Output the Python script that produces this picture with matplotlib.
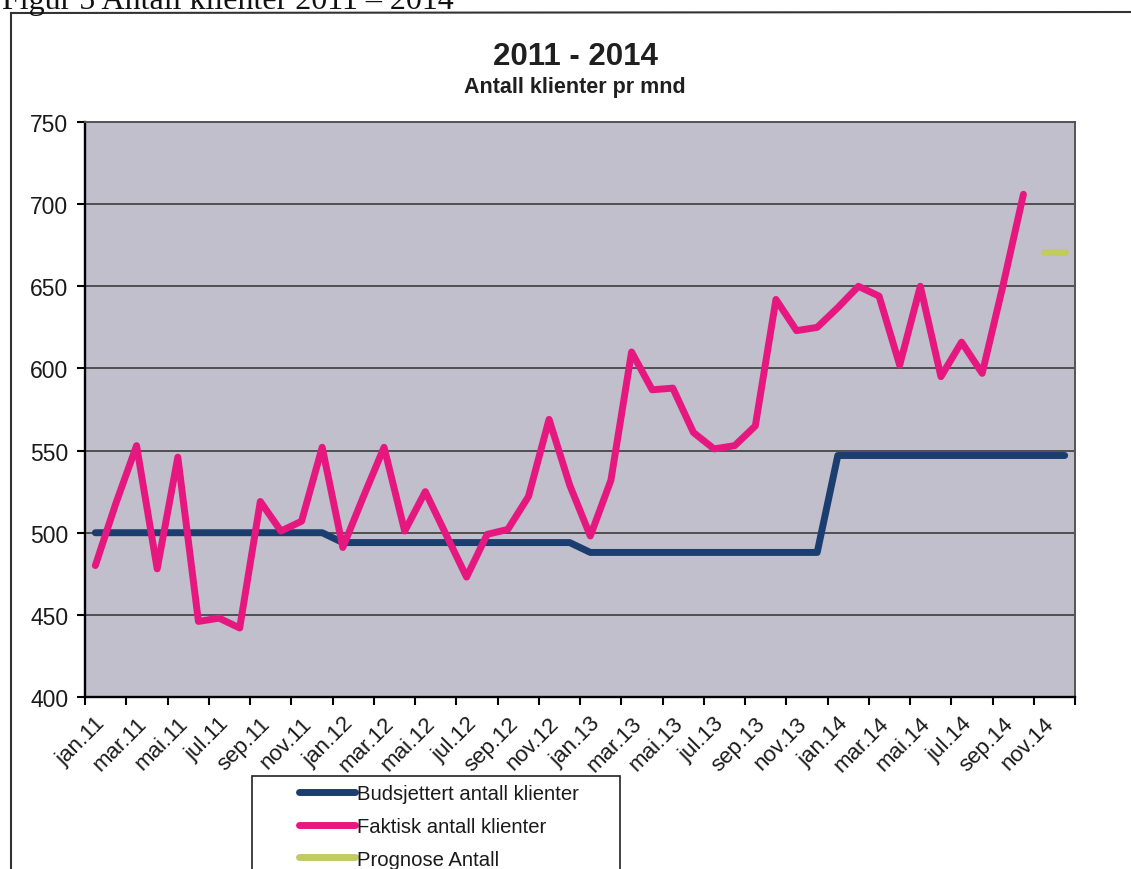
import matplotlib
matplotlib.use('Agg')
import matplotlib.pyplot as plt
import numpy as np
from matplotlib.transforms import ScaledTranslation
from matplotlib.patches import Rectangle
from matplotlib.lines import Line2D

plt.rcParams['font.family'] = ['Liberation Sans', 'DejaVu Sans']

# ---------------- data ----------------
months = ['jan', 'feb', 'mar', 'apr', 'mai', 'jun', 'jul', 'aug', 'sep', 'okt', 'nov', 'des']
years = ['11', '12', '13', '14']
categories = [f'{m}.{y}' for y in years for m in months]

budsjettert = [500, 500, 500, 500, 500, 500, 500, 500, 500, 500, 500, 500,
               494, 494, 494, 494, 494, 494, 494, 494, 494, 494, 494, 494,
               488, 488, 488, 488, 488, 488, 488, 488, 488, 488, 488, 488,
               547, 547, 547, 547, 547, 547, 547, 547, 547, 547, 547, 547]

faktisk = [480, 518, 553, 478, 546, 446, 448, 442, 519, 501, 507, 552,
           491, 522, 552, 501, 525, 499, 473, 499, 502, 522, 569, 529,
           498, 532, 610, 587, 588, 561, 551, 553, 565, 642, 623, 625,
           637, 650, 644, 602, 650, 595, 616, 597, 650, 706, None, None]

prognose = [None] * 46 + [671, 671]

series_names = ['Budsjettert antall klienter', 'Faktisk antall klienter', 'Prognose Antall']
y_ticks = [400, 450, 500, 550, 600, 650, 700, 750]

# ---------------- figure ----------------
W, H = 1131, 870
fig = plt.figure(figsize=(W / 100, H / 100), dpi=100)
fig.patch.set_facecolor('white')


def fx(px):
    return px / W


def fy(py):
    return 1 - py / H


ax = fig.add_axes([fx(85), fy(698), fx(1075) - fx(85), fy(123) - fy(698)])
ax.set_facecolor('#C0BFCB')

x = np.arange(len(categories))
to_arr = lambda s: np.array([np.nan if v is None else v for v in s], dtype=float)

common = dict(lw=5.0, solid_capstyle='round', solid_joinstyle='round')
l1, = ax.plot(x, to_arr(budsjettert), color='#1B3D6F', zorder=3, **common)
l2, = ax.plot(x, to_arr(faktisk), color='#E6187F', zorder=4, **common)
l3, = ax.plot(x, to_arr(prognose), color='#C2CB62', zorder=5, **common)

ax.set_xlim(-0.5, len(categories) - 0.5)
ax.set_ylim(400, 750)
ax.set_yticks(y_ticks)
ax.yaxis.grid(True, color='#474747', lw=1.3)
ax.set_axisbelow(True)

# major ticks at category boundaries (every 2 months), labels on category centres
ax.set_xticks(np.arange(-0.5, len(categories), 2))
ax.set_xticklabels([])
ax.set_xticks(x[::2], minor=True)
ax.set_xticklabels(categories[::2], minor=True, rotation=45, ha='right', va='center',
                   rotation_mode='anchor')
ax.tick_params(axis='x', which='major', length=6, width=1.5, direction='out', color='black')
ax.tick_params(axis='x', which='minor', length=0, pad=16.5, labelsize=16, labelcolor='#1a1a1a')
for lab in ax.get_xticklabels(minor=True):
    lab.set_transform(lab.get_transform() + ScaledTranslation(0.07, 0, fig.dpi_scale_trans))

ax.tick_params(axis='y', length=6, width=1.5, direction='out', pad=6, labelsize=16.5,
               labelcolor='#1a1a1a', color='black')

for side in ['left', 'bottom']:
    ax.spines[side].set_color('black')
    ax.spines[side].set_linewidth(1.7)
for side in ['top', 'right']:
    ax.spines[side].set_color('#555555')
    ax.spines[side].set_linewidth(1.4)

# ---------------- titles ----------------
fig.text(fx(575), fy(65), '2011 - 2014', fontsize=22.5, weight='bold', ha='center',
         va='baseline', color='#1f1f1f')
fig.text(fx(575), fy(93), 'Antall klienter pr mnd', fontsize=15.5, weight='bold', ha='center',
         va='baseline', color='#1f1f1f')

# document caption (cut off at the top of the scan)
fig.text(fx(2), fy(9), 'Figur 5 Antall klienter 2011 – 2014', fontsize=23,
         family=['Liberation Serif', 'DejaVu Serif'], ha='left', va='baseline', color='#111111')

# outer chart border
fig.add_artist(Line2D([fx(11), fx(11)], [fy(14), fy(880)], transform=fig.transFigure,
                      color='#333333', lw=1.5))
fig.add_artist(Line2D([fx(11), 1.0], [fy(14), fy(13)], transform=fig.transFigure,
                      color='#333333', lw=1.5))

# ---------------- legend ----------------
fig.add_artist(Rectangle((fx(252), fy(890)), fx(620) - fx(252), fy(777) - fy(890),
                         transform=fig.transFigure, fill=False, edgecolor='#222222', lw=1.2))
fig.legend([l1, l2, l3], series_names, loc='upper left',
           bbox_to_anchor=(fx(299), fy(785)), frameon=False, fontsize=14.6,
           handlelength=2.75, handletextpad=0.1, labelspacing=0.68, borderpad=0,
           borderaxespad=0, labelcolor='#1a1a1a')

fig.savefig('out.png', dpi=100)
